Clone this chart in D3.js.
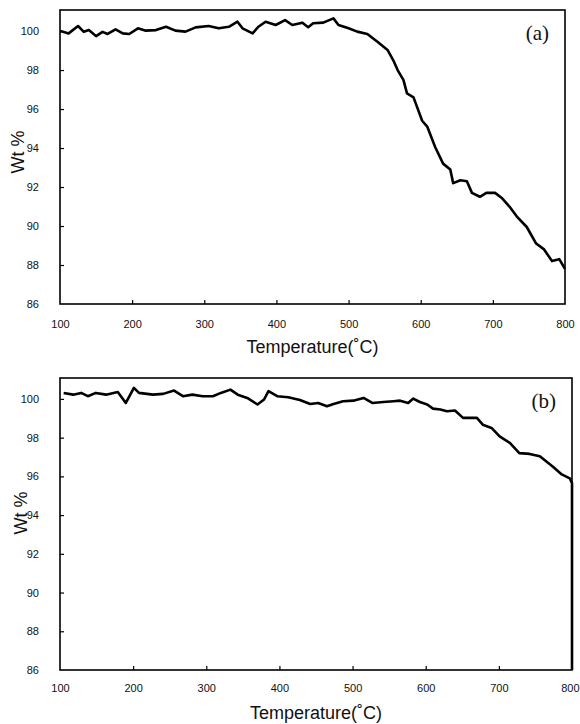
<!DOCTYPE html>
<html>
<head>
<meta charset="utf-8">
<script src="https://d3js.org/d3.v7.min.js"></script>
<style>
body { margin: 0; background: #fff; }
.tick text { font-family: "Liberation Sans Narrow", "Liberation Sans", Arial, sans-serif; font-size: 11px; fill: #111; }
.axisTitle { font-family: "Liberation Sans", Arial, sans-serif; font-size: 18px; fill: #111; }
.panelLabel { font-family: "Liberation Serif", "DejaVu Serif", serif; font-size: 21px; fill: #111; }
</style>
</head>
<body>
<script>
// TGA curves, panel (a) and panel (b)

// temperature ticks and wt% ticks shared by both panels
var xTicks = [100, 200, 300, 400, 500, 600, 700, 800];
var yTicks = [86, 88, 90, 92, 94, 96, 98, 100];

// panel (a)
var tempA = [100, 104, 112, 125, 133, 140, 150, 159, 166, 177, 187, 196, 208, 219, 233, 247, 260, 274, 288, 306,
	320, 334, 346, 353, 367, 375, 385, 399, 412, 422, 436, 444, 451, 465, 479, 486, 500, 512, 526, 540,
	554, 562, 568, 576, 581, 590, 602, 609, 620, 631, 641, 645, 655, 664, 671, 682, 691, 703, 712, 723,
	733, 747, 760, 771, 782, 792, 800];
var wtA = [100.0, 99.96, 99.88, 100.26, 99.96, 100.05, 99.74, 99.96, 99.85, 100.09, 99.88, 99.85, 100.14, 100.02, 100.05, 100.22, 100.02, 99.97, 100.19, 100.26,
	100.14, 100.22, 100.48, 100.14, 99.88, 100.22, 100.48, 100.31, 100.56, 100.31, 100.43, 100.19, 100.4, 100.43, 100.65, 100.31, 100.14, 99.97, 99.85, 99.45,
	99.03, 98.5, 98.0, 97.5, 96.8, 96.6, 95.4, 95.1, 94.05, 93.2, 92.9, 92.2, 92.35, 92.3, 91.7, 91.5, 91.7, 91.7, 91.45, 91.0,
	90.5, 89.95, 89.1, 88.8, 88.2, 88.3, 87.8];

// panel (b) (the trace drops down the right edge at the end)
var tempB = [105, 118, 129, 138, 149, 163, 179, 190, 201, 208, 227, 241, 256, 268, 281, 295, 309, 320, 333, 343,
	356, 370, 379, 385, 397, 412, 428, 442, 453, 465, 474, 487, 501, 515, 527, 542, 556, 565, 576, 583,
	592, 602, 610, 620, 629, 640, 651, 670, 678, 690, 701, 715, 728, 742, 756, 774, 786, 797, 800, 800];
var wtB = [100.31, 100.22, 100.31, 100.14, 100.31, 100.22, 100.36, 99.79, 100.57, 100.31, 100.22, 100.26, 100.43, 100.14, 100.22, 100.14, 100.14, 100.31, 100.48, 100.22,
	100.05, 99.71, 99.97, 100.4, 100.14, 100.09, 99.94, 99.74, 99.79, 99.62, 99.74, 99.88, 99.91, 100.05, 99.79, 99.84, 99.88, 99.91, 99.79, 100.02,
	99.84, 99.71, 99.5, 99.45, 99.36, 99.4, 99.02, 99.02, 98.67, 98.5, 98.07, 97.73, 97.2, 97.16, 97.04, 96.5, 96.1, 95.9, 95.65, 86];

window.onload = function(){

	var svg = d3.select("body")
		.append("svg")
		.attr("width", 580)
		.attr("height", 724);

	// panel boxes, in pixels
	drawPanel({
		temp: tempA, wt: wtA, label: "(a)",
		left: 60, right: 565, top: 10, bottom: 304,
		tickY: 328, titleY: 353, wtX: 24, wtY: 152
	});
	drawPanel({
		temp: tempB, wt: wtB, label: "(b)",
		left: 60, right: 572, top: 378, bottom: 670,
		tickY: 692, titleY: 719, wtX: 27, wtY: 513
	});

	function drawPanel(p){

		var x = d3.scaleLinear()
			.domain([100, 800])
			.range([p.left, p.right]);

		var y = d3.scaleLinear()
			.domain([86, 101.08])
			.range([p.bottom, p.top]);

		var g = svg.append("g");

		// frame
		g.append("rect")
			.attr("x", p.left)
			.attr("y", p.top)
			.attr("width", p.right - p.left)
			.attr("height", p.bottom - p.top)
			.style("fill", "none")
			.style("stroke", "#000")
			.style("stroke-width", 1.6);

		// y axis, ticks pointing in
		var yAxis = d3.axisRight(y)
			.tickValues(yTicks)
			.tickSize(4)
			.tickFormat(d3.format("d"));

		var ya = g.append("g")
			.attr("transform", "translate(" + p.left + ",0)")
			.call(yAxis);
		ya.select(".domain").remove();
		ya.selectAll(".tick line").style("stroke-width", 1.2);
		ya.selectAll(".tick text")
			.attr("x", -21)
			.attr("text-anchor", "end");
		ya.selectAll(".tick").filter(function(d){ return d == 86; }).select("line").remove();

		// x axis, ticks pointing up
		var xAxis = d3.axisTop(x)
			.tickValues(xTicks)
			.tickSize(4)
			.tickFormat(d3.format("d"));

		var xa = g.append("g")
			.attr("transform", "translate(0," + p.bottom + ")")
			.call(xAxis);
		xa.select(".domain").remove();
		xa.selectAll(".tick line").style("stroke-width", 1.2);
		xa.selectAll(".tick text")
			.attr("y", p.tickY - p.bottom)
			.attr("dy", null);
		xa.selectAll(".tick").filter(function(d){ return d == 100 || d == 800; }).select("line").remove();

		// keep the last label inside the page
		xa.selectAll(".tick").filter(function(d){ return d == 800 && x(d) + 9 > 579; })
			.select("text")
			.attr("text-anchor", "end")
			.attr("x", 579 - x(800));

		// the trace
		var pts = p.temp.map(function(t, i){ return [t, p.wt[i]]; });
		var line = d3.line()
			.x(function(d){ return x(d[0]); })
			.y(function(d){ return y(d[1]); });

		g.append("path")
			.datum(pts)
			.attr("d", line)
			.style("fill", "none")
			.style("stroke", "#000")
			.style("stroke-width", 2.6)
			.style("stroke-linejoin", "round");

		// axis titles
		g.append("text")
			.attr("class", "axisTitle")
			.attr("text-anchor", "middle")
			.attr("x", (p.left + p.right) / 2)
			.attr("y", p.titleY)
			.text("Temperature(˚C)");

		g.append("text")
			.attr("class", "axisTitle")
			.attr("text-anchor", "middle")
			.attr("transform", "translate(" + p.wtX + "," + p.wtY + ") rotate(-90)")
			.text("Wt %");

		// panel letter
		g.append("text")
			.attr("class", "panelLabel")
			.attr("text-anchor", "end")
			.attr("x", p.right - 16)
			.attr("y", p.top + 30)
			.text(p.label);
	}
};
</script>
</body>
</html>
